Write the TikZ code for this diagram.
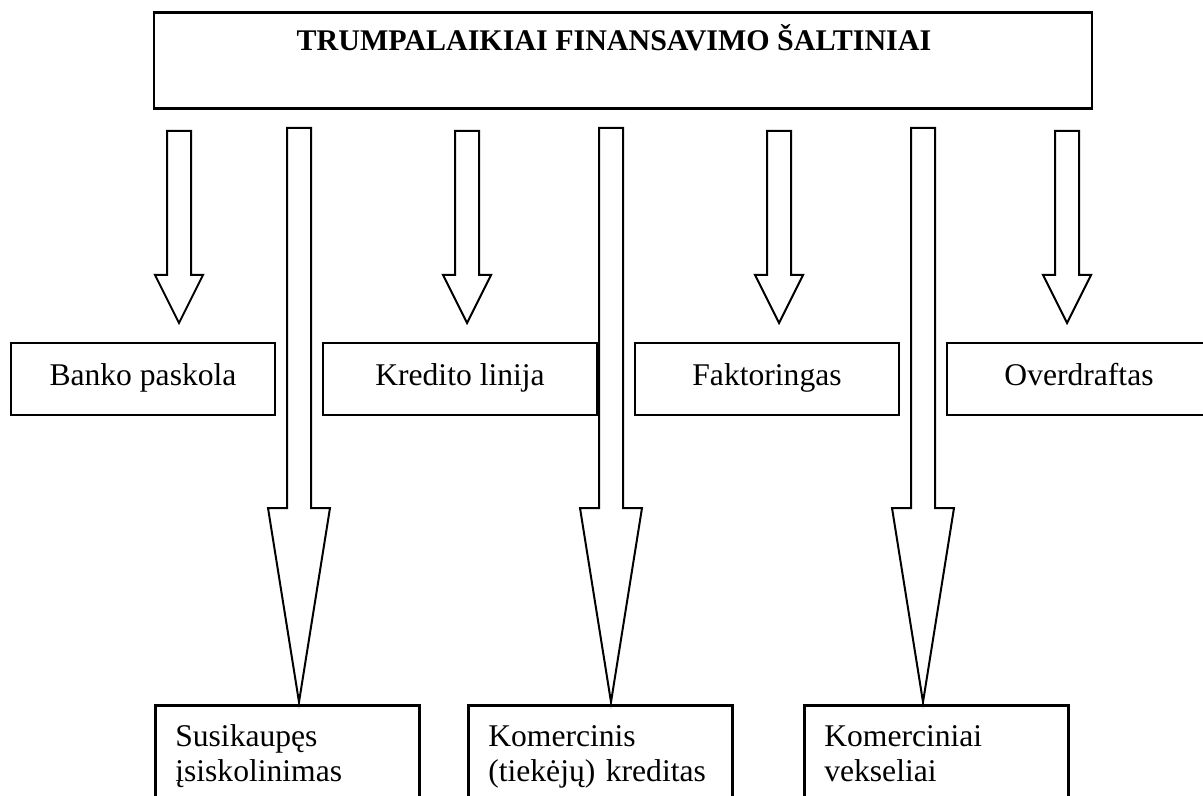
\documentclass[tikz,border=0pt]{standalone}
\usepackage{fontspec}
\setmainfont{Liberation Serif}

% block arrow pointing down: x, top, neck, tip, half width of head
\newcommand{\blockarrow}[5]{%
  \draw[arrowline] (#1-12,#2) -- (#1-12,#3) -- (#1-#5,#3) -- (#1,#4)
    -- (#1+#5,#3) -- (#1+12,#3) -- (#1+12,#2) -- cycle;}

\begin{document}
\begin{tikzpicture}[x=0.5pt,y=-0.5pt,
    box/.style={draw, line width=1.3pt, inner sep=0pt,
                font=\fontsize{15.8}{17.5}\selectfont},
    midbox/.style={box, minimum width=132pt, minimum height=36pt,
                   text height=10pt, text depth=3pt},
    lowbox/.style={box, anchor=north west, align=left, text width=112pt,
                   inner xsep=10pt, inner ysep=10.5pt,
                   text height=10pt, text depth=50pt},
    arrowline/.style={draw, line width=1pt, line join=miter}]
  \useasboundingbox (0,0) rectangle (1203,796);

  % heading
  \node[box, anchor=north, minimum width=469pt, inner ysep=9pt,
        text height=10pt, text depth=20pt,
        font=\fontsize{15}{17.5}\selectfont\bfseries] (title) at (623,11)
        {TRUMPALAIKIAI FINANSAVIMO ŠALTINIAI\hspace*{9pt}};

  % middle row
  \node[midbox] (banko)   at (143,379)  {Banko paskola};
  \node[midbox, minimum width=137pt] (kredito) at (460,379) {Kredito linija};
  \node[midbox] (faktor)  at (767,379)  {Faktoringas};
  \node[midbox] (overdr)  at (1079,379) {Overdraftas};

  % bottom row
  \node[lowbox] (susik)   at (154,704) {Susikaupęs\\įsiskolinimas};
  \node[lowbox] (komkred) at (467,704) {Komercinis\\(tiekėjų) kreditas};
  \node[lowbox] (veks)    at (803,704) {Komerciniai\\vekseliai};

  % short arrows to the middle row
  \foreach \ax in {179,467,779,1067}
    {\blockarrow{\ax}{131}{275}{323}{24}}
  % long arrows to the bottom row
  \foreach \ax in {299,611,923}
    {\blockarrow{\ax}{128}{508}{702}{31}}
\end{tikzpicture}
\end{document}
